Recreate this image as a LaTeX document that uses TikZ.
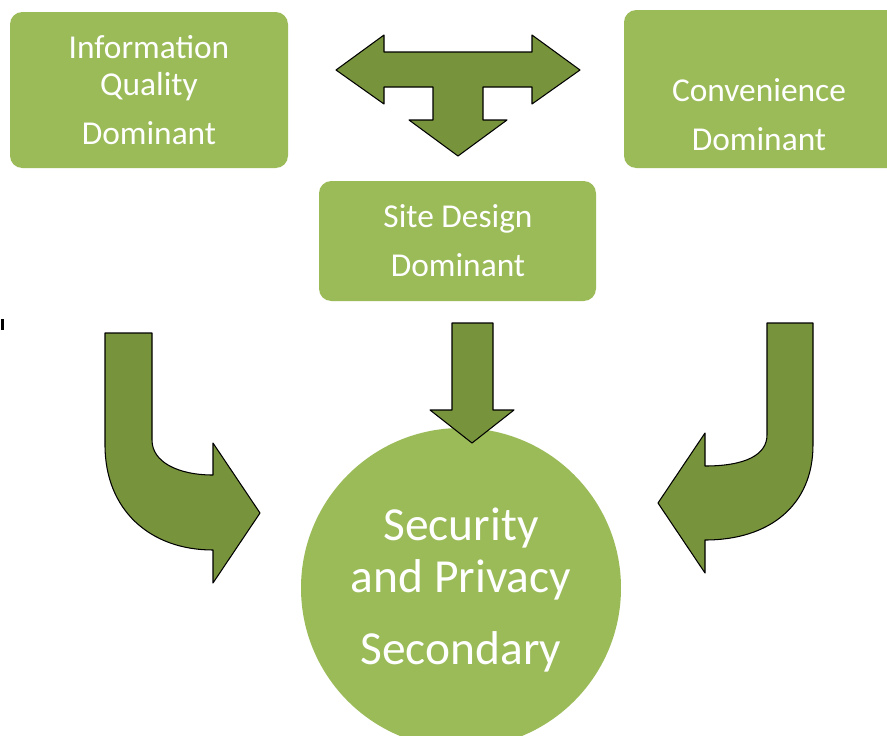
\documentclass[tikz,border=0pt]{standalone}
\usepackage{fontspec}
\setmainfont{Carlito}
\definecolor{boxgreen}{HTML}{9BBB59}
\definecolor{arrowgreen}{HTML}{77933C}
\begin{document}
\begin{tikzpicture}[x=0.02cm,y=-0.02cm,
	box/.style={fill=boxgreen, rounded corners=7pt},
	boxtext/.style={text=white, align=center, font=\fontsize{19}{21}\selectfont},
	blockarrow/.style={fill=arrowgreen, draw=black, line width=0.6pt, line join=round}]
	\useasboundingbox (0,0) rectangle (887,735);
	% boxes
	\fill[box] (10,12) rectangle (288,168);
	\fill[box] (624,10) rectangle (900,168);
	\fill[box] (319,181) rectangle (596,301);
	\fill[boxgreen] (461,588) circle (160);
	\node[boxtext] (info) at (149,90) {Information\\Quality\\[7pt]Dominant};
	\node[boxtext] (conv) at (759,115) {Convenience\\[7pt]Dominant};
	\node[boxtext] (site) at (458,241) {Site Design\\[7pt]Dominant};
	\node[boxtext, font=\fontsize{27}{30}\selectfont] (sec) at (461,590) {Security\\and Privacy\\[11pt]Secondary};
	% arrows
	\draw[blockarrow] (336,70) -- (384,35) -- (384,52) -- (532,52) -- (532,35) -- (580,70)
		-- (532,104) -- (532,87) -- (483,87) -- (483,120) -- (507,120) -- (458,156)
		-- (409,120) -- (433,120) -- (433,87) -- (384,87) -- (384,104) -- cycle;
	\draw[blockarrow] (452,323) -- (493,323) -- (493,410) -- (514,410) -- (472,443)
		-- (430,410) -- (452,410) -- cycle;
	\draw[blockarrow] (105,333) -- (152,333) -- (152,440) .. controls (152,462) and (178,475) .. (213,475)
		-- (213,443) -- (260,513) -- (213,583) -- (213,550)
		.. controls (150,550) and (105,510) .. (105,445) -- cycle;
	\draw[blockarrow] (767,323) -- (813,323) -- (813,445) .. controls (813,505) and (770,540) .. (705,540)
		-- (705,573) -- (658,503) -- (705,433) -- (705,466)
		.. controls (745,466) and (767,455) .. (767,435) -- cycle;
	\fill (1,319) rectangle (4,330);
\end{tikzpicture}
\end{document}
